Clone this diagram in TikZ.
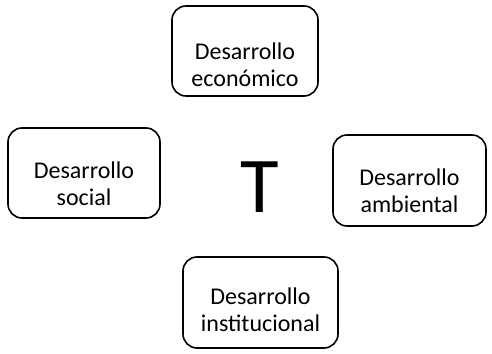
\documentclass[tikz,border=0pt]{standalone}
\usepackage{fontspec}
\setmainfont{Carlito}
\usetikzlibrary{positioning}

\begin{document}
\begin{tikzpicture}[
    x=1pt, y=1pt,
    area/.style={rectangle, draw, line width=1.6pt, rounded corners=14pt, inner sep=0pt},
    rotulo/.style={align=center, inner sep=0pt, font=\fontsize{24}{27}\selectfont}
]
    \useasboundingbox (0,0) rectangle (492,353);

    % Top
    \node[area, minimum width=146pt, minimum height=90pt] (eco) at (245, 302) {};
    \node[rotulo] (ecot) at ([yshift=-14pt]eco.center) {Desarrollo\\económico};

    % Left and right
    \node[area, minimum width=152pt, minimum height=90pt] (soc) at (84, 180) {};
    \node[rotulo] (soct) at ([yshift=-11pt]soc.center) {Desarrollo\\social};
    \node[area, minimum width=153pt, minimum height=91pt] (amb) at (409.5, 172.5) {};
    \node[rotulo] (ambt) at ([yshift=-10pt]amb.center) {Desarrollo\\ambiental};

    % Bottom
    \node[area, minimum width=155pt, minimum height=91pt] (inst) at (260.5, 50.5) {};
    \node[rotulo] (instt) at ([yshift=-7pt]inst.center) {Desarrollo\\institucional};

    % Centre letter
    \node[inner sep=0pt, font=\fontsize{79}{79}\selectfont] (letra) at (260, 166) {T};
\end{tikzpicture}
\end{document}
